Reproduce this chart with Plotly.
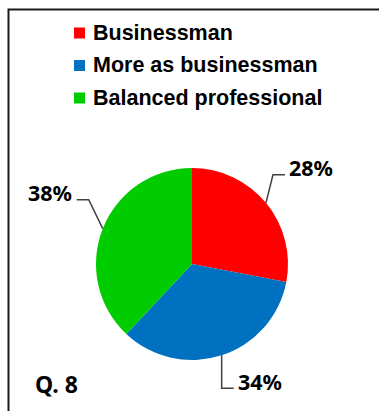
import math
import plotly.graph_objects as go

# Survey answers for question 8
categories = ["Businessman", "More as businessman", "Balanced professional"]
shares = [28, 34, 38]
colors = ["#FF0000", "#0070C0", "#00CC00"]
question = "Q. 8"

W, H = 379, 411
CX, CY, R = 192, 264, 96  # pie centre / radius in px

# label leader geometry (elbow offset from slice edge, px)
elbow_offsets = [(7, -28), (0, 33), (-14, -29)]
tail_len = 12
LABEL_FONT = "Noto Sans"


def px(x, y):
    return x / W, (H - y) / H


fig = go.Figure()
fig.add_trace(go.Pie(
    labels=categories, values=shares, sort=False, direction="clockwise",
    rotation=0, marker=dict(colors=colors, line=dict(width=0)),
    textinfo="none", hoverinfo="label+percent", showlegend=False,
    domain=dict(x=[(CX - R) / W, (CX + R) / W], y=[(H - CY - R) / H, (H - CY + R) / H]),
))

shapes = []
annotations = []

# outer frame
shapes.append(dict(type="rect", xref="paper", yref="paper",
                   x0=8.5 / W, x1=1.2, y0=-0.2, y1=(H - 9.5) / H,
                   line=dict(color="#1a1a1a", width=2), fillcolor="rgba(0,0,0,0)"))

# percentage labels with elbow leader lines, placed from the slice mid angles
total = sum(shares)
cum = 0
for v, (dx, dy) in zip(shares, elbow_offsets):
    mid = (cum + v / 2) / total * 2 * math.pi
    cum += v
    ex, ey = CX + R * math.sin(mid), CY - R * math.cos(mid)
    kx, ky = ex + dx, ey + dy
    side = 1 if math.sin(mid) >= 0 or dx >= 0 else -1
    tx = kx + side * tail_len
    p0, p1, p2 = px(ex, ey), px(kx, ky), px(tx, ky)
    shapes.append(dict(type="path", xref="paper", yref="paper",
                       path=f"M{p0[0]},{p0[1]} L{p1[0]},{p1[1]} L{p2[0]},{p2[1]}",
                       line=dict(color="#404040", width=1.5)))
    lx, ly = px(tx + side * 2.5, ky - 7)
    annotations.append(dict(x=lx, y=ly, xref="paper", yref="paper",
                            text=f"<b>{v}%</b>", showarrow=False,
                            xanchor="left" if side > 0 else "right", yanchor="middle",
                            font=dict(family=LABEL_FONT, size=21.5, color="black")))

# legend
for i, (name, c) in enumerate(zip(categories, colors)):
    yc = 33 + 32.5 * i
    a0, a1 = px(74, yc - 5.5), px(85, yc + 5.5)
    shapes.append(dict(type="rect", xref="paper", yref="paper",
                       x0=a0[0], x1=a1[0], y0=a1[1], y1=a0[1],
                       fillcolor=c, line=dict(width=0)))
    tx, ty = px(91, yc)
    annotations.append(dict(x=tx, y=ty, xref="paper", yref="paper",
                            text=f"<b>{name}</b>", showarrow=False,
                            xanchor="left", yanchor="middle",
                            font=dict(family="Liberation Sans, Arial", size=21.5, color="black")))

qx, qy = px(33, 384)
annotations.append(dict(x=qx, y=qy, xref="paper", yref="paper",
                        text=f"<b>{question}</b>", showarrow=False,
                        xanchor="left", yanchor="middle",
                        font=dict(family=LABEL_FONT, size=23, color="black")))

fig.update_layout(
    width=W, height=H, margin=dict(l=0, r=0, t=0, b=0),
    paper_bgcolor="white", plot_bgcolor="white",
    shapes=shapes, annotations=annotations,
)

fig.write_html("out.html")
